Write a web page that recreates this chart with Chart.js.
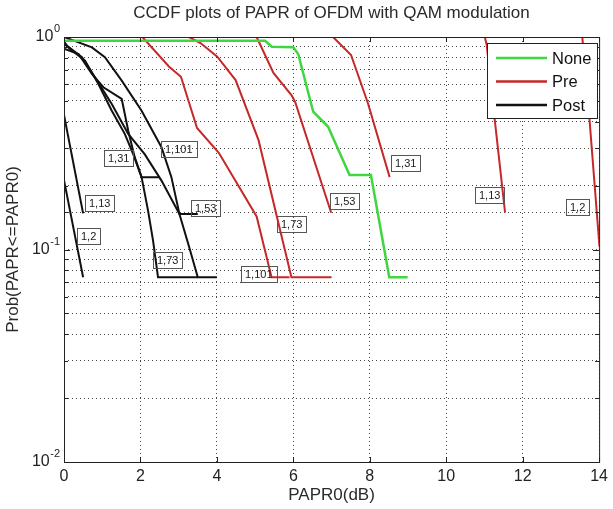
<!DOCTYPE html>
<html>
<head>
<meta charset="utf-8">
<script src="https://cdn.jsdelivr.net/npm/chart.js@4.4.1/dist/chart.umd.min.js"></script>
<style>
  html, body { margin: 0; padding: 0; background: #fff; }
  #ccdf { display: block; }
</style>
</head>
<body>
<canvas id="ccdf" width="613" height="509"></canvas>
<script>
var FONT = '"Liberation Sans", Arial, Helvetica, sans-serif';

var xTicks = [0, 2, 4, 6, 8, 10, 12, 14];
var yTickValues = [1, 0.1, 0.01];
var yTickExps = ['0', '-1', '-2'];

// None (no companding)
var noneX = [0, 5.26, 5.44, 6.0, 6.13, 6.52, 6.91, 7.47, 8.03, 8.51, 8.99];
var noneY = [0.96, 0.96, 0.90, 0.894, 0.83, 0.445, 0.378, 0.224, 0.224, 0.074, 0.074];

// Pre
var pre101X = [2.05, 2.75, 3.06, 3.48, 4.05, 5.04, 5.43, 5.9];
var pre101Y = [1.0, 0.725, 0.65, 0.373, 0.285, 0.143, 0.074, 0.074];
var pre73X = [3.27, 3.58, 4.01, 4.49, 5.09, 5.95, 7.0];
var pre73Y = [1.0, 0.934, 0.808, 0.627, 0.327, 0.074, 0.074];
var pre53X = [5.04, 5.48, 5.95, 6.05, 6.99];
var pre53Y = [1.0, 0.677, 0.533, 0.494, 0.149];
var pre31X = [7.04, 7.51, 7.95, 8.52];
var pre31Y = [1.0, 0.823, 0.489, 0.219];
var pre13X = [11.01, 11.06, 11.27, 11.54];
var pre13Y = [1.0, 0.917, 0.407, 0.149];
var pre2X = [13.56, 13.66, 13.75, 14.01, 14.05];
var pre2Y = [1.0, 0.627, 0.407, 0.103, 0.074];

// Post
var post2X = [0, 0.5];
var post2Y = [0.212, 0.074];
var post13X = [0, 0.5];
var post13Y = [0.43, 0.148];
var post31X = [0, 0.38, 0.73, 1.03, 1.51, 1.68, 1.85, 2.03, 2.5];
var post31Y = [0.88, 0.832, 0.67, 0.58, 0.511, 0.362, 0.272, 0.219, 0.219];
var post101X = [0, 0.73, 1.07, 1.51, 2.03, 2.55, 2.81, 3.02, 3.28, 3.5, 4.0];
var post101Y = [1.0, 0.894, 0.803, 0.623, 0.45, 0.303, 0.219, 0.147, 0.102, 0.074, 0.074];
var post53X = [0, 0.08, 0.47, 0.81, 1.25, 1.68, 2.11, 2.55, 3.02, 3.5];
var post53Y = [0.95, 0.91, 0.803, 0.646, 0.484, 0.35, 0.281, 0.211, 0.147, 0.147];
var post73X = [0, 0.16, 0.55, 0.9, 1.25, 1.59, 1.81, 2.03, 2.2, 2.33, 2.46, 3.5];
var post73Y = [0.93, 0.878, 0.774, 0.601, 0.45, 0.35, 0.281, 0.219, 0.152, 0.11, 0.074, 0.074];

// text boxes next to the curves (data coordinates)
var labelText = ['1,2', '1,13', '1,31', '1,101', '1,53', '1,73', '1,101', '1,73', '1,53', '1,31', '1,13', '1,2'];
var labelX = [0.34, 0.55, 1.05, 2.55, 3.32, 2.33, 4.62, 5.57, 6.95, 8.55, 10.76, 13.14];
var labelY = [0.116, 0.1655, 0.27, 0.296, 0.157, 0.0888, 0.0767, 0.132, 0.17, 0.255, 0.18, 0.158];

var legendNames = ['None', 'Pre', 'Post'];

var GREEN = '#3fd63f';
var RED = '#c62828';
var BLACK = '#111111';
var legendColors = [GREEN, RED, BLACK];

function pts(xs, ys) {
    return xs.map(function (x, i) { return { x: x, y: ys[i] }; });
}

function curve(label, xs, ys, color, width) {
    return {
        label: label,
        data: pts(xs, ys),
        borderColor: color,
        borderWidth: width,
        pointRadius: 0,
        fill: false,
        tension: 0,
        clip: 0
    };
}

var datasets = [
    curve('None', noneX, noneY, GREEN, 2.5),
    curve('Pre 1,101', pre101X, pre101Y, RED, 2),
    curve('Pre 1,73', pre73X, pre73Y, RED, 2),
    curve('Pre 1,53', pre53X, pre53Y, RED, 2),
    curve('Pre 1,31', pre31X, pre31Y, RED, 2),
    curve('Pre 1,13', pre13X, pre13Y, RED, 2),
    curve('Pre 1,2', pre2X, pre2Y, RED, 2),
    curve('Post 1,2', post2X, post2Y, BLACK, 2),
    curve('Post 1,13', post13X, post13Y, BLACK, 2),
    curve('Post 1,31', post31X, post31Y, BLACK, 2),
    curve('Post 1,101', post101X, post101Y, BLACK, 2),
    curve('Post 1,53', post53X, post53Y, BLACK, 2),
    curve('Post 1,73', post73X, post73Y, BLACK, 2)
];

var decor = {
    id: 'matlabDecor',
    afterDraw: function (chart) {
        var ctx = chart.ctx;
        var a = chart.chartArea;
        var xs = chart.scales.x;
        var ys = chart.scales.y;
        var i, px, py;

        ctx.save();

        // curve labels
        ctx.font = '11px ' + FONT;
        ctx.textBaseline = 'middle';
        ctx.textAlign = 'left';
        for (i = 0; i < labelText.length; i++) {
            px = Math.round(xs.getPixelForValue(labelX[i]));
            py = Math.round(ys.getPixelForValue(labelY[i]));
            var w = Math.round(ctx.measureText(labelText[i]).width + 8);
            ctx.strokeStyle = '#555';
            ctx.lineWidth = 1;
            ctx.strokeRect(px + 0.5, py - 8 + 0.5, w, 16);
            ctx.fillStyle = '#222';
            ctx.fillText(labelText[i], px + 4, py + 1);
        }

        // axes box and inward ticks
        ctx.strokeStyle = '#222';
        ctx.lineWidth = 1;
        ctx.strokeRect(a.left + 0.5, a.top + 0.5, a.right - a.left, a.bottom - a.top);
        ctx.beginPath();
        xTicks.forEach(function (v) {
            var x = Math.round(xs.getPixelForValue(v)) + 0.5;
            ctx.moveTo(x, a.bottom);
            ctx.lineTo(x, a.bottom - 5);
            ctx.moveTo(x, a.top);
            ctx.lineTo(x, a.top + 5);
        });
        ys.ticks.forEach(function (t) {
            var y = Math.round(ys.getPixelForValue(t.value)) + 0.5;
            var len = yTickValues.indexOf(t.value) >= 0 ? 6 : 4;
            ctx.moveTo(a.left, y);
            ctx.lineTo(a.left + len, y);
            ctx.moveTo(a.right, y);
            ctx.lineTo(a.right - len, y);
        });
        ctx.stroke();

        // legend
        var lx = 487, ly = 43, lw = 110, lh = 75;
        ctx.fillStyle = '#fff';
        ctx.fillRect(lx, ly, lw, lh);
        ctx.strokeStyle = '#222';
        ctx.strokeRect(lx + 0.5, ly + 0.5, lw, lh);
        ctx.font = '16.5px ' + FONT;
        for (i = 0; i < legendNames.length; i++) {
            var ry = ly + 15 + i * 23.5;
            ctx.strokeStyle = legendColors[i];
            ctx.lineWidth = 2.5;
            ctx.beginPath();
            ctx.moveTo(lx + 9, ry);
            ctx.lineTo(lx + 60, ry);
            ctx.stroke();
            ctx.fillStyle = '#111';
            ctx.fillText(legendNames[i], lx + 65, ry + 1);
        }

        // y tick labels 10^n
        ctx.fillStyle = '#222';
        ctx.textAlign = 'right';
        for (i = 0; i < yTickValues.length; i++) {
            py = ys.getPixelForValue(yTickValues[i]);
            ctx.font = '11px ' + FONT;
            var ew = ctx.measureText(yTickExps[i]).width;
            ctx.fillText(yTickExps[i], a.left - 4, py - 8);
            ctx.font = '16px ' + FONT;
            ctx.fillText('10', a.left - 4 - ew - 0.5, py);
        }

        // titles
        ctx.textAlign = 'center';
        ctx.font = '17px ' + FONT;
        ctx.fillStyle = '#2a2a2a';
        ctx.fillText('CCDF plots of PAPR of OFDM with QAM modulation', (a.left + a.right) / 2, 13);
        ctx.fillText('PAPR0(dB)', (a.left + a.right) / 2, 495);
        ctx.translate(13, (a.top + a.bottom) / 2);
        ctx.rotate(-Math.PI / 2);
        ctx.fillText('Prob(PAPR<=PAPR0)', 0, 0);

        ctx.restore();
    }
};

new Chart(document.getElementById('ccdf'), {
    type: 'line',
    data: { datasets: datasets },
    options: {
        responsive: false,
        animation: false,
        devicePixelRatio: 1,
        layout: { padding: { top: 37, right: 10, left: 0, bottom: 0 } },
        plugins: {
            legend: { display: false },
            tooltip: { enabled: false },
            title: { display: false }
        },
        scales: {
            x: {
                type: 'linear',
                min: 0,
                max: 14,
                afterFit: function (s) { s.height = 47; },
                afterBuildTicks: function (s) {
                    s.ticks = xTicks.map(function (v) { return { value: v }; });
                },
                ticks: {
                    font: { family: FONT, size: 16 },
                    color: '#222',
                    padding: 5,
                    maxRotation: 0,
                    autoSkip: false
                },
                grid: { color: 'rgba(0,0,0,0.72)', lineWidth: 1, drawTicks: false },
                border: { display: false, dash: [1, 3] }
            },
            y: {
                type: 'logarithmic',
                min: 0.01,
                max: 1,
                afterFit: function (s) { s.width = 64; },
                ticks: { display: false },
                grid: { color: 'rgba(0,0,0,0.72)', lineWidth: 1, drawTicks: false },
                border: { display: false, dash: [1, 3] }
            }
        }
    },
    plugins: [decor]
});
</script>
</body>
</html>
